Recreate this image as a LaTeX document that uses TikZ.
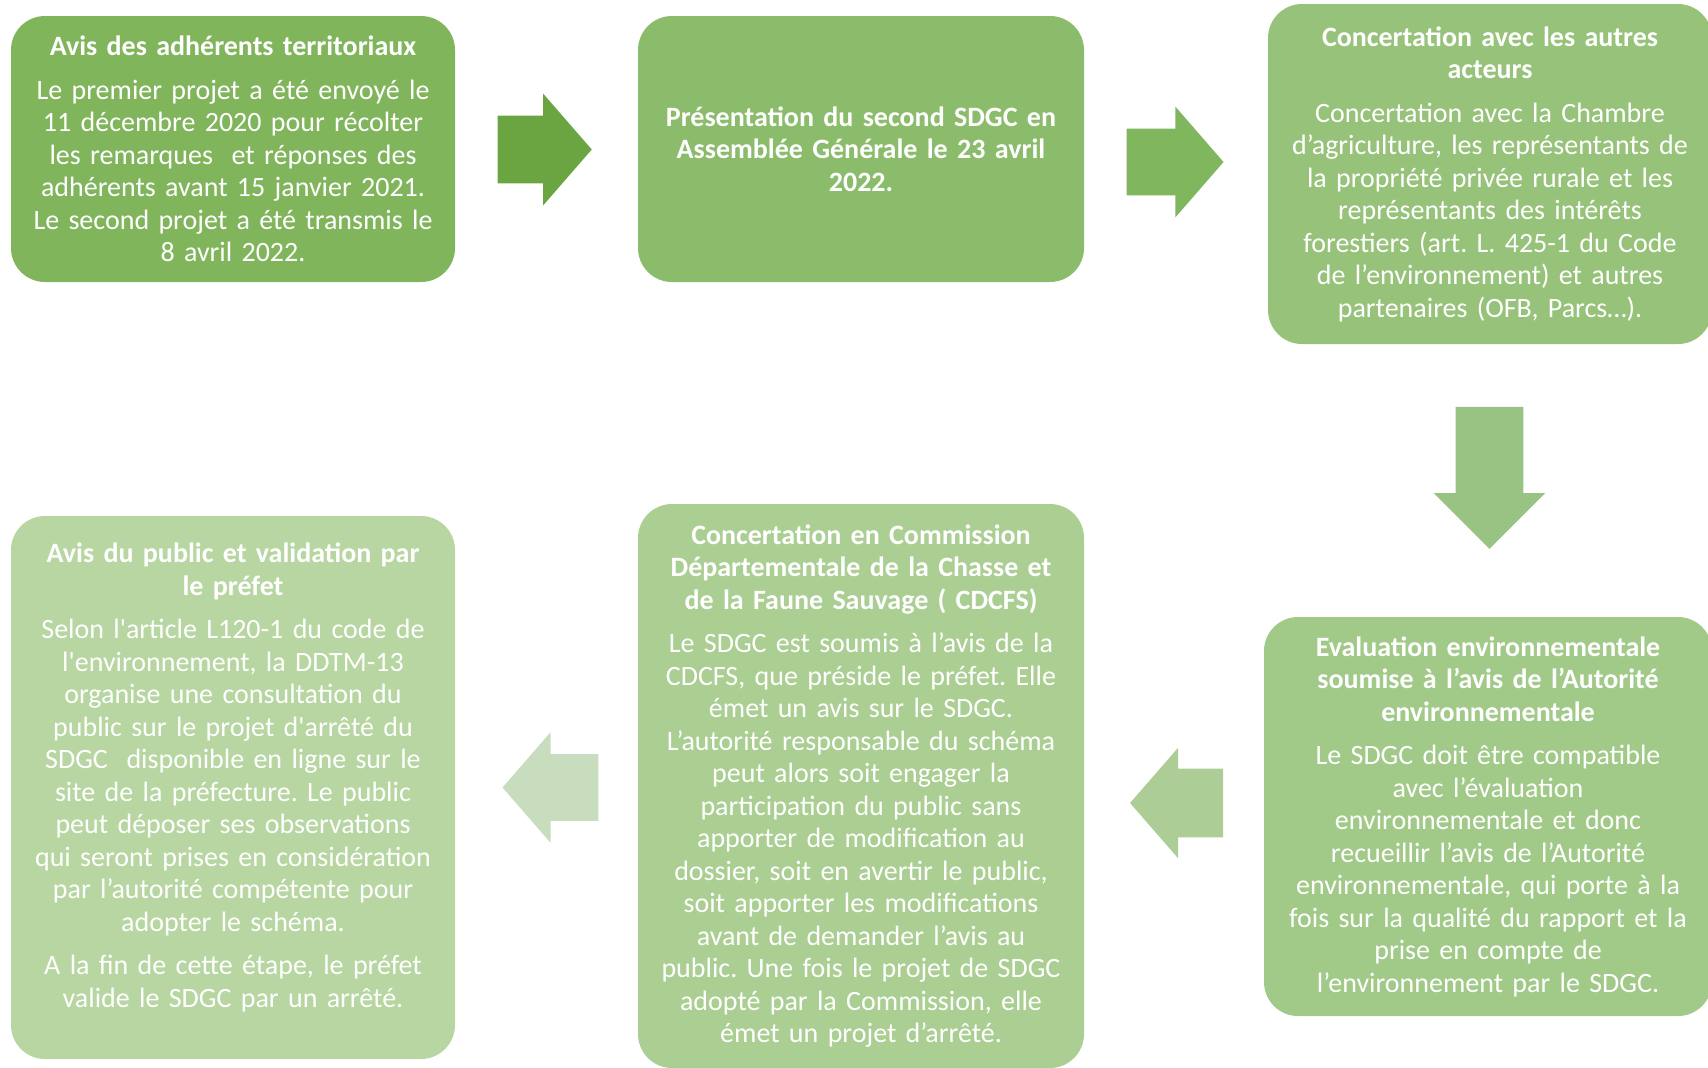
\documentclass[tikz,border=0pt]{standalone}
\usepackage{fontspec}
\setmainfont{Carlito}
\usepackage{tikz}
\usetikzlibrary{positioning}
\usetikzlibrary{shapes.arrows}

\definecolor{boxA}{RGB}{128,181,92}
\definecolor{boxB}{RGB}{139,188,107}
\definecolor{boxC}{RGB}{151,194,122}
\definecolor{boxD}{RGB}{161,201,136}
\definecolor{boxE}{RGB}{171,206,147}
\definecolor{boxF}{RGB}{183,214,162}
\definecolor{arrA}{RGB}{106,165,66}
\definecolor{arrB}{RGB}{128,182,93}
\definecolor{arrC}{RGB}{152,195,130}
\definecolor{arrD}{RGB}{173,205,151}
\definecolor{arrE}{RGB}{200,221,189}

\newcommand{\gap}{\par\vspace{5.5pt}}
\frenchspacing

\begin{document}
\begin{tikzpicture}[x=0.5pt, y=-0.5pt,
    stepbox/.style = {rounded corners=17pt, inner sep=0pt, text=white,
      align=center, text width=216pt,
      font=\fontsize{14pt}{16.25pt}\selectfont},
    blockarrow/.style = {single arrow, inner xsep=0pt, inner ysep=16.75pt,
      single arrow head extend=11pt, single arrow tip angle=98}]
  \useasboundingbox (0,0) rectangle (1708,1067);

  \node[stepbox, fill=boxA, minimum width=222pt, minimum height=133pt] (adh) at (233,149)
    {\textbf{Avis des adhérents territoriaux}\gap
     Le premier projet a été envoyé le\\
     11 décembre 2020 pour récolter\\
     les remarques\ \ et réponses des\\
     adhérents avant 15 janvier 2021.\\
     Le second projet a été transmis le\\
     8 avril 2022.};
  \node[stepbox, fill=boxB, minimum width=223pt, minimum height=133pt, font=\fontsize{14pt}{16.25pt}\selectfont\bfseries] (ag) at (861,149)
    {Présentation du second SDGC en\\
     Assemblée Générale le 23 avril\\
     2022.};
  \node[stepbox, fill=boxC, minimum width=222pt, minimum height=170pt] (acteurs) at (1490,174)
    {\textbf{Concertation avec les autres}\\
     \textbf{acteurs}\gap
     Concertation avec la Chambre\\
     d’agriculture, les représentants de\\
     la propriété privée rurale et les\\
     représentants des intérêts\\
     forestiers (art. L. 425-1 du Code\\
     de l’environnement) et autres\\
     partenaires (OFB, Parcs…).};
  \node[stepbox, fill=boxD, minimum width=224pt, minimum height=199.5pt] (ae) at (1488,816.5)
    {\textbf{Evaluation environnementale}\\
     \textbf{soumise à l’avis de l’Autorité}\\
     \textbf{environnementale}\gap
     Le SDGC doit être compatible\\
     avec l’évaluation\\
     environnementale et donc\\
     recueillir l’avis de l’Autorité\\
     environnementale, qui porte à la\\
     fois sur la qualité du rapport et la\\
     prise en compte de\\
     l’environnement par le SDGC.};
  \node[stepbox, fill=boxE, minimum width=223pt, minimum height=282pt] (cdcfs) at (861,786)
    {\textbf{Concertation en Commission}\\
     \textbf{Départementale de la Chasse et}\\
     \textbf{de la Faune Sauvage ( CDCFS)}\gap
     Le SDGC est soumis à l’avis de la\\
     CDCFS, que préside le préfet. Elle\\
     émet un avis sur le SDGC.\\
     L’autorité responsable du schéma\\
     peut alors soit engager la\\
     participation du public sans\\
     apporter de modification au\\
     dossier, soit en avertir le public,\\
     soit apporter les modifications\\
     avant de demander l’avis au\\
     public. Une fois le projet de SDGC\\
     adopté par la Commission, elle\\
     émet un projet d’arrêté.};
  \node[stepbox, fill=boxF, minimum width=222pt, minimum height=271.5pt] (public) at (233,787.5)
    {\textbf{Avis du public et validation par}\\
     \textbf{le préfet}\gap
     Selon l\textquotesingle article L120-1 du code de\\
     l\textquotesingle environnement, la DDTM-13\\
     organise une consultation du\\
     public sur le projet d\textquotesingle arrêté du\\
     SDGC\ \ disponible en ligne sur le\\
     site de la préfecture. Le public\\
     peut déposer ses observations\\
     qui seront prises en considération\\
     par l’autorité compétente pour\\
     adopter le schéma.\gap
     A la fin de cette étape, le préfet\\
     valide le SDGC par un arrêté.\par\vspace{10pt}};

  \node[blockarrow, fill=arrA, minimum height=47pt] (adh-ag) at (530,149.5) {};
  \node[blockarrow, fill=arrB, minimum height=48.5pt, inner ysep=16.5pt] (ag-acteurs) at (1160.5,162) {};
  \node[blockarrow, fill=arrC, minimum height=71pt, single arrow tip angle=90,
    inner xsep=16.75pt, inner ysep=0pt, shape border rotate=270] (acteurs-ae) at (1489.5,461) {};
  \node[blockarrow, fill=arrD, minimum height=46.5pt, inner ysep=17pt, single arrow head extend=10.5pt,
    shape border rotate=180] (ae-cdcfs) at (1191.5,803) {};
  \node[blockarrow, fill=arrE, minimum height=48pt, inner ysep=16.5pt,
    shape border rotate=180] (cdcfs-public) at (565,787.5) {};
\end{tikzpicture}
\end{document}
